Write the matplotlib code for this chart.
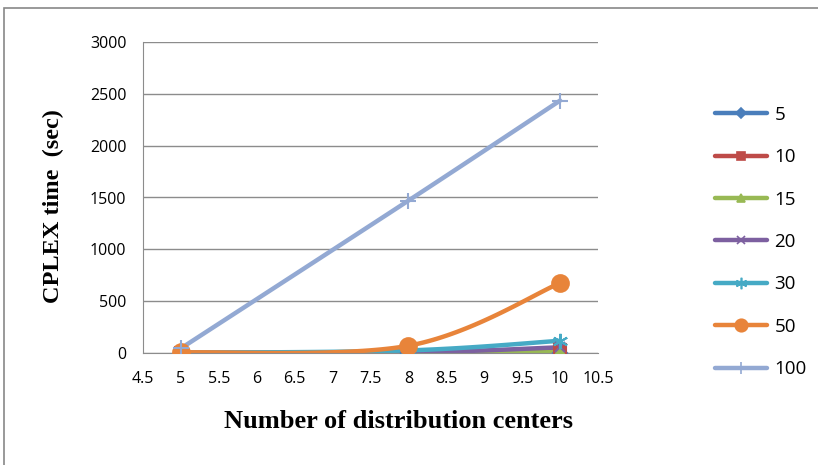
import matplotlib.pyplot as plt
import numpy as np
from matplotlib.patches import Rectangle

# CPLEX run time vs number of distribution centers, one series per customer count
centers = [5, 8, 10]
series_names = ['5', '10', '15', '20', '30', '50', '100']
t5 = [1, 1, 3]
t10 = [1, 2, 25]
t15 = [0, 1, 8]
t20 = [1, 5, 55]
t30 = [2, 25, 118]
t50 = [5, 70, 675]
t100 = [45, 1470, 2435]

colors = ['#4A7EBB', '#BE4B48', '#98B954', '#7D60A0', '#46AAC5', '#E8843A', '#93A9D3']
markers = ['D', 's', '^', 'x', (6, 2, 0), 'o', '+']
msizes = [7, 8, 8, 7, 11, 12, 12]


def smooth(x, y, n=40):
    # excel-like smoothed line: bezier segments with catmull-rom style control points
    x = np.asarray(x, float)
    y = np.asarray(y, float)
    xs, ys = [], []
    for i in range(len(x) - 1):
        p0 = np.array([x[max(i - 1, 0)], y[max(i - 1, 0)]])
        p1 = np.array([x[i], y[i]])
        p2 = np.array([x[i + 1], y[i + 1]])
        p3 = np.array([x[min(i + 2, len(x) - 1)], y[min(i + 2, len(x) - 1)]])
        c1 = p1 + (p2 - p0) / 6
        c2 = p2 - (p3 - p1) / 6
        t = np.linspace(0, 1, n)[:, None]
        pts = (1 - t) ** 3 * p1 + 3 * (1 - t) ** 2 * t * c1 + 3 * (1 - t) * t ** 2 * c2 + t ** 3 * p2
        xs.extend(pts[:, 0])
        ys.extend(pts[:, 1])
    return xs, ys


fig = plt.figure(figsize=(8.18, 4.65), dpi=100)
fig.patches.append(Rectangle((4 / 818, -0.01), 1.0, 1 - 8 / 465 + 0.01, transform=fig.transFigure,
                             fill=False, edgecolor='#888888', lw=1.2))
ax = fig.add_axes([143 / 818, 1 - 353 / 465, (598 - 143) / 818, (353 - 42) / 465])

handles = []
for name, vals, c, m, ms in zip(series_names, [t5, t10, t15, t20, t30, t50, t100], colors, markers, msizes):
    sx, sy = smooth(centers, vals)
    ax.plot(sx, sy, color=c, lw=3.2, solid_capstyle='round', zorder=2)
    ax.plot(centers, vals, linestyle='none', marker=m, ms=ms, color=c,
            markeredgecolor=c, markeredgewidth=1.5, zorder=3)
    h, = ax.plot([], [], color=c, lw=3.2, marker=m, ms=ms * 0.75, markeredgewidth=1.2,
                 solid_capstyle='round')
    handles.append(h)

ax.set_xlim(4.5, 10.5)
ax.set_ylim(0, 3000)
ax.set_xticks(np.arange(4.5, 10.51, 0.5))
ax.set_xticklabels(['4.5', '5', '5.5', '6', '6.5', '7', '7.5', '8', '8.5', '9', '9.5', '10', '10.5'])
ax.set_yticks(range(0, 3001, 500))
ax.yaxis.grid(True, color='#8c8c8c', lw=1)
ax.set_axisbelow(True)
for s in ['top', 'right']:
    ax.spines[s].set_visible(False)
for s in ['left', 'bottom']:
    ax.spines[s].set_color('#8c8c8c')
ax.tick_params(axis='both', length=0, labelsize=11.5, colors='black')
ax.tick_params(axis='x', pad=13)
ax.tick_params(axis='y', pad=12)
for lab in ax.get_xticklabels() + ax.get_yticklabels():
    lab.set_family('Open Sans')

# axis titles
fig.text(399 / 818, 1 - 421 / 465, 'Number of distribution centers', family='Liberation Serif',
         weight='bold', fontsize=19, ha='center', va='center')
fig.text(53 / 818, 1 - 206 / 465, 'CPLEX time  (sec)', family='Liberation Serif',
         weight='bold', fontsize=17.5, ha='center', va='center', rotation=90)

fig.legend(handles, series_names, loc='upper left', bbox_to_anchor=(698 / 818, 1 - 89 / 465),
           frameon=False, handlelength=2.8, labelspacing=1.3, handletextpad=0.37,
           prop={'family': 'Open Sans', 'size': 13.5})

fig.savefig('out.png', dpi=100, facecolor='white')
